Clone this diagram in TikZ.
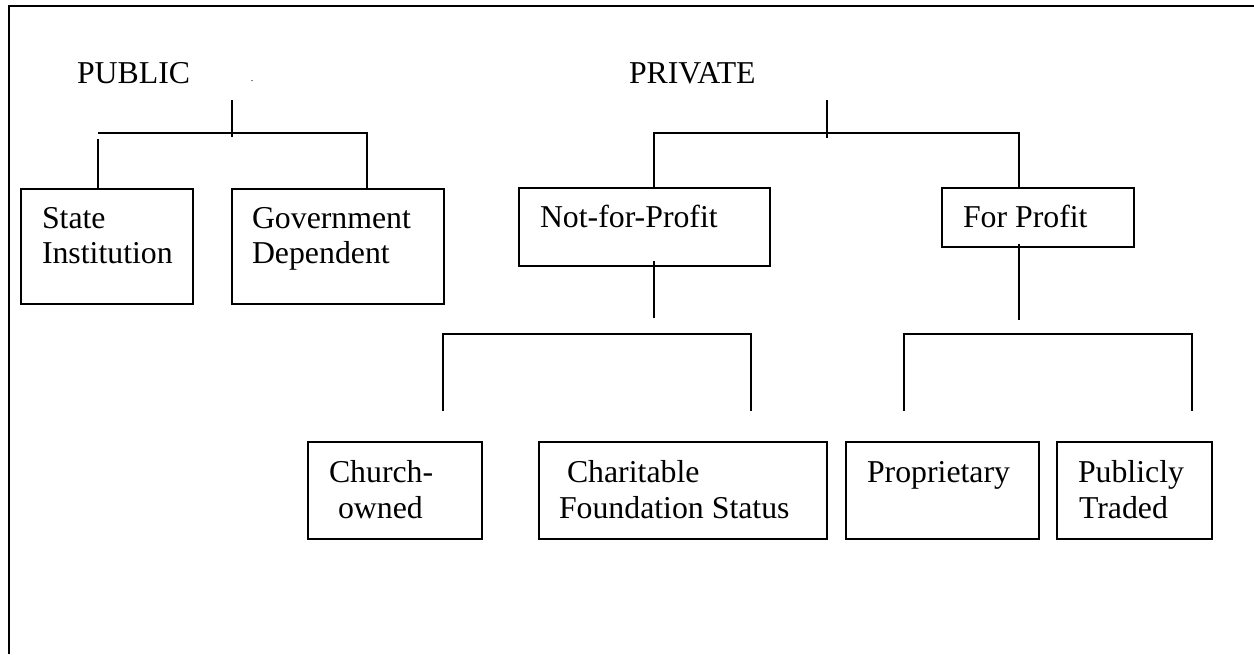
\documentclass[tikz,border=0pt]{standalone}
\usepackage{fontspec}
\setmainfont{Liberation Serif}
\begin{document}
\begin{tikzpicture}[x=0.5pt,y=-0.5pt,
  every node/.style={inner sep=0pt, outer sep=0pt},
  box/.style={draw, line width=1pt, rectangle},
  txt/.style={anchor=base west, font=\fontsize{15.9}{18}\selectfont},
  conn/.style={line width=1pt},
  frame/.style={line width=1pt}]
\useasboundingbox (0,0) rectangle (1254,654);
% partial frame
\coordinate (fbl) at (9,654);
\coordinate (ftl) at (9,6);
\coordinate (ftr) at (1254,6);
\draw[frame] (fbl) -- (ftl) -- (ftr);

% headings
\node[txt] (public) at (77,83) {PUBLIC};
\node[txt] (private) at (629,83) {PRIVATE};
\node[anchor=base, font=\fontsize{5}{5}\selectfont] (dot) at (252,81) {.};

% boxes
\node[box, minimum width=86pt, minimum height=57.5pt] (state) at (107,246.5) {};
\node[box, minimum width=106pt, minimum height=57.5pt] (gov) at (338,246.5) {};
\node[box, minimum width=125.5pt, minimum height=39pt] (nfp) at (644.5,227) {};
\node[box, minimum width=96pt, minimum height=29.5pt] (fp) at (1038,217.5) {};
\node[box, minimum width=87pt, minimum height=48.5pt] (church) at (395,490.5) {};
\node[box, minimum width=144pt, minimum height=48.5pt] (char) at (683,490.5) {};
\node[box, minimum width=96.5pt, minimum height=48.5pt] (prop) at (942.5,490.5) {};
\node[box, minimum width=77.5pt, minimum height=48.5pt] (pub) at (1134.5,490.5) {};

% box texts
\node[txt] (state1) at (42,228) {State};
\node[txt] (state2) at (42,263) {Institution};
\node[txt] (gov1) at (252,228) {Government};
\node[txt] (gov2) at (252,263) {Dependent};
\node[txt] (nfp1) at (540,227) {Not-for-Profit};
\node[txt] (fp1) at (963,227) {For Profit};
\node[txt] (church1) at (329,482) {Church-};
\node[txt] (church2) at (338,518) {owned};
\node[txt] (char1) at (567,482) {Charitable};
\node[txt] (char2) at (559,518) {Foundation Status};
\node[txt] (prop1) at (867,482) {Proprietary};
\node[txt] (pub1) at (1078,482) {Publicly};
\node[txt] (pub2) at (1079,518) {Traded};

% public connectors
\coordinate (pubtop) at (232,100);
\coordinate (pubbot) at (232,137);
\coordinate (pubL) at (98,133);
\coordinate (pubLd) at (98,139);
\coordinate (pubR) at (367,133);
\draw[conn] (pubtop) -- (pubbot);
\draw[conn] (pubL) -- (pubR) -- (pubR |- gov.north);
\draw[conn] (pubLd) -- (pubLd |- state.north);

% private connectors
\coordinate (prvtop) at (827,100);
\coordinate (prvbot) at (827,138);
\coordinate (prvL) at (654,133);
\coordinate (prvR) at (1019,133);
\draw[conn] (prvtop) -- (prvbot);
\draw[conn] (prvL |- nfp.north) -- (prvL) -- (prvR) -- (prvR |- fp.north);

% not-for-profit branch
\coordinate (nfpA) at (654,261);
\coordinate (nfpB) at (654,318);
\coordinate (nfpL) at (443,334);
\coordinate (nfpR) at (751,334);
\coordinate (nfpLe) at (443,411);
\coordinate (nfpRe) at (751,411);
\draw[conn] (nfpA) -- (nfpB);
\draw[conn] (nfpLe) -- (nfpL) -- (nfpR) -- (nfpRe);

% for-profit branch
\coordinate (fpA) at (1019,244);
\coordinate (fpB) at (1019,320);
\coordinate (fpL) at (904,334);
\coordinate (fpR) at (1192,334);
\coordinate (fpLe) at (904,411);
\coordinate (fpRe) at (1192,411);
\draw[conn] (fpA) -- (fpB);
\draw[conn] (fpLe) -- (fpL) -- (fpR) -- (fpRe);
\end{tikzpicture}
\end{document}
